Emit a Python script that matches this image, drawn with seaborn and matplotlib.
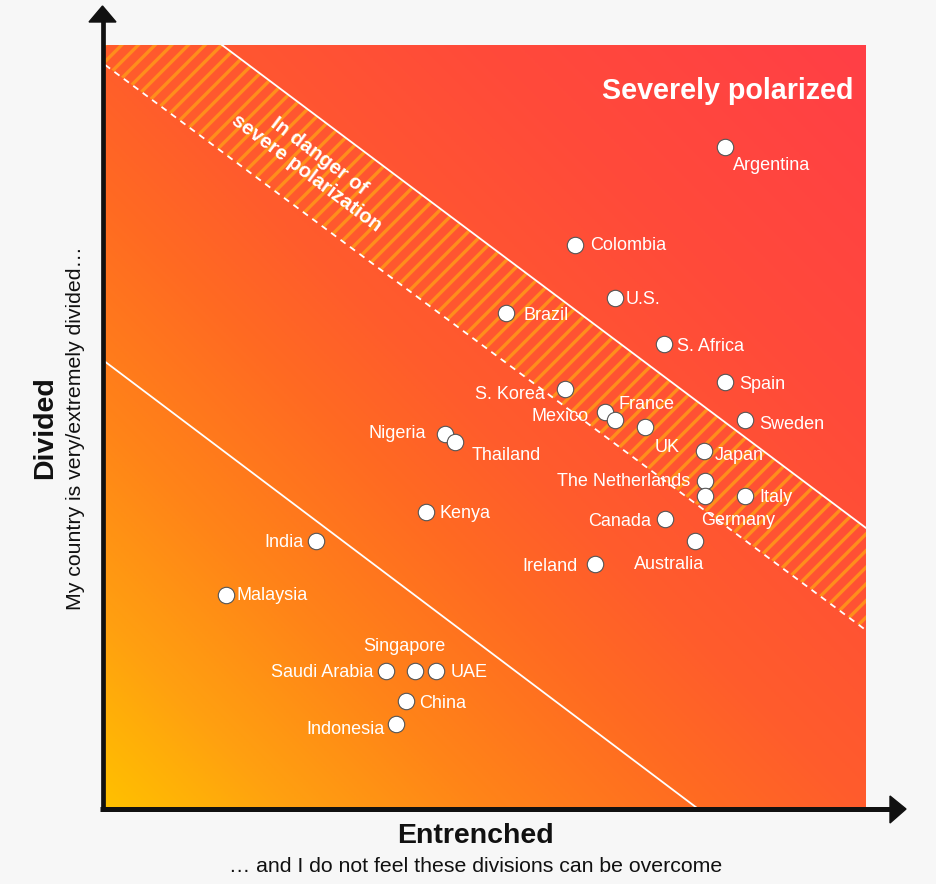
import numpy as np
import pandas as pd
import matplotlib
matplotlib.use("Agg")
import matplotlib.pyplot as plt
import seaborn as sns
from matplotlib.colors import LinearSegmentedColormap
from matplotlib.patches import Polygon
from matplotlib.lines import Line2D

# ---------------- data ----------------
countries = ["Argentina", "Colombia", "U.S.", "Brazil", "S. Africa", "Spain",
             "S. Korea", "Mexico", "France", "UK", "Sweden", "Nigeria",
             "Thailand", "Japan", "The Netherlands", "Germany", "Italy",
             "Kenya", "Canada", "Australia", "India", "Ireland", "Malaysia",
             "Saudi Arabia", "Singapore", "UAE", "China", "Indonesia"]
entrenched = [81.5, 61.8, 67.0, 52.7, 73.5, 81.5,
              60.4, 65.7, 67.0, 71.0, 84.1, 44.7,
              46.0, 78.7, 78.8, 78.8, 84.1,
              42.2, 73.6, 77.5, 27.7, 64.4, 15.9,
              36.9, 40.7, 43.5, 39.6, 38.2]
divided = [86.6, 73.8, 66.8, 64.9, 60.8, 55.8,
           54.9, 51.9, 50.9, 49.9, 50.9, 49.0,
           48.0, 46.8, 42.9, 40.9, 40.9,
           38.8, 37.9, 35.0, 35.0, 32.0, 27.9,
           18.0, 18.0, 18.0, 14.0, 11.0]

# threshold lines: (value at entrenched = 0, slope)
severe_line = (111.5, -0.748)
danger_line = (97.4, -0.741)
lower_line = (58.5, -0.752)

# ---------------- label placement (pixels offset, alignment) ----------------
label_style = {
    "Argentina": (8, -16, "left"), "Colombia": (15, 1, "left"),
    "U.S.": (11, 1, "left"), "Brazil": (17, -1, "left"),
    "S. Africa": (13, 0, "left"), "Spain": (14, 0, "left"),
    "Sweden": (14, -3, "left"), "S. Korea": (-20, -3, "right"),
    "Mexico": (-16, -2, "right"), "France": (4, 17, "left"),
    "UK": (9, -18, "left"), "Japan": (11, -3, "left"),
    "The Netherlands": (-14, 1, "right"), "Germany": (-4, -23, "left"),
    "Italy": (14, 0, "left"), "Canada": (-14, -1, "right"),
    "Australia": (-26, -22, "center"), "Ireland": (-17, -1, "right"),
    "Kenya": (13, 0, "left"), "India": (-12, 0, "right"),
    "Malaysia": (11, 2, "left"), "Singapore": (-10, 26, "center"),
    "Saudi Arabia": (-12, 0, "right"), "UAE": (15, 0, "left"),
    "China": (13, 0, "left"), "Indonesia": (-11, -3, "right"),
    "Nigeria": (-19, 3, "right"), "Thailand": (17, -12, "left"),
}

df = pd.DataFrame({"country": countries, "entrenched": entrenched,
                   "divided": divided})

sns.set_theme(style="white")
plt.rcParams["font.family"] = ["Liberation Sans", "DejaVu Sans"]
plt.rcParams["hatch.linewidth"] = 2.4

W, H = 936, 884
BG = "#F7F7F7"
fig = plt.figure(figsize=(W / 100, H / 100), dpi=100, facecolor=BG)


def fx(px):
    return px / W


def fy(py):
    return 1 - py / H


L, R, T, B = 105, 866, 45, 808
ax = fig.add_axes([fx(L), fy(B), (R - L) / W, (B - T) / H])
ax.set_xlim(0, 100)
ax.set_ylim(0, 100)

# gradient background
cmap = LinearSegmentedColormap.from_list("grad", [
    (0.0, "#FFC000"), (0.12, "#FFA010"), (0.25, "#FF8418"),
    (0.4, "#FF6A22"), (0.5, "#FF5C2C"), (0.75, "#FF4A3A"), (1.0, "#FF3F46")])
gx, gy = np.meshgrid(np.linspace(0, 1, 300), np.linspace(0, 1, 300))
ax.imshow((gx + gy) / 2, extent=(0, 100, 0, 100), origin="lower",
          cmap=cmap, vmin=0, vmax=1, aspect="auto", zorder=0,
          interpolation="bilinear")

# hatched band
xs = np.linspace(0, 100, 400)
y_sev = severe_line[0] + severe_line[1] * xs
y_dan = danger_line[0] + danger_line[1] * xs
ax.fill_between(xs, y_dan, y_sev, facecolor="none", edgecolor="#FF8E1C",
                hatch="//", linewidth=0, zorder=1)
ax.plot(xs, y_sev, color="white", lw=1.3, zorder=2)
ax.plot(xs, y_dan, color="white", lw=1.3, ls=(0, (3.5, 3)), zorder=2)
ax.plot(xs, lower_line[0] + lower_line[1] * xs, color="white", lw=1.3,
        zorder=2)

# points
sns.scatterplot(data=df, x="entrenched", y="divided", ax=ax, s=140,
                color="white", edgecolor="#555555", linewidth=0.8,
                zorder=4, legend=False)

for c, xv, yv in zip(countries, entrenched, divided):
    dx, dy, ha = label_style[c]
    ax.annotate(c, (xv, yv), xytext=(dx, dy - 2), textcoords="offset pixels",
                ha=ha, va="center", color="white", fontsize=13, zorder=5)

ax.text(0.983, 0.94, "Severely polarized", transform=ax.transAxes,
        ha="right", va="center", color="white", fontsize=20.6,
        fontweight="bold", zorder=5)
ax.text(27.3, 84.3, "In danger of\nsevere polarization", ha="center",
        va="center", rotation=-36.9, rotation_mode="anchor", color="white",
        fontsize=14.5, fontweight="bold", linespacing=1.2, zorder=5)

ax.set_xticks([])
ax.set_yticks([])
ax.set_xlabel("")
ax.set_ylabel("")
for s in ax.spines.values():
    s.set_visible(False)

# axis arrows
ink = "#111111"
fig.add_artist(Line2D([fx(102.5), fx(102.5)], [fy(811), fy(20)], color=ink,
                      lw=3.4, solid_capstyle="butt"))
fig.add_artist(Polygon([(fx(89), fy(22)), (fx(116), fy(22)),
                        (fx(102.5), fy(6))], closed=True, color=ink))
fig.add_artist(Line2D([fx(100), fx(892)], [fy(809), fy(809)], color=ink,
                      lw=3.6, solid_capstyle="butt"))
fig.add_artist(Polygon([(fx(890), fy(796)), (fx(890), fy(823)),
                        (fx(906), fy(809))], closed=True, color=ink))

# axis titles
fig.text(fx(45), fy(428), "Divided", rotation=90, ha="center", va="center",
         fontsize=20.5, fontweight="bold", color=ink)
fig.text(fx(76), fy(428), "My country is very/extremely divided…",
         rotation=90, ha="center", va="center", fontsize=15.3, color=ink)
fig.text(fx(475), fy(836), "Entrenched", ha="center", va="center",
         fontsize=20.5, fontweight="bold", color=ink)
fig.text(fx(476), fy(866), "… and I do not feel these divisions can be overcome",
         ha="center", va="center", fontsize=15.3, color=ink)

fig.savefig("out.png", dpi=100, facecolor=BG)
